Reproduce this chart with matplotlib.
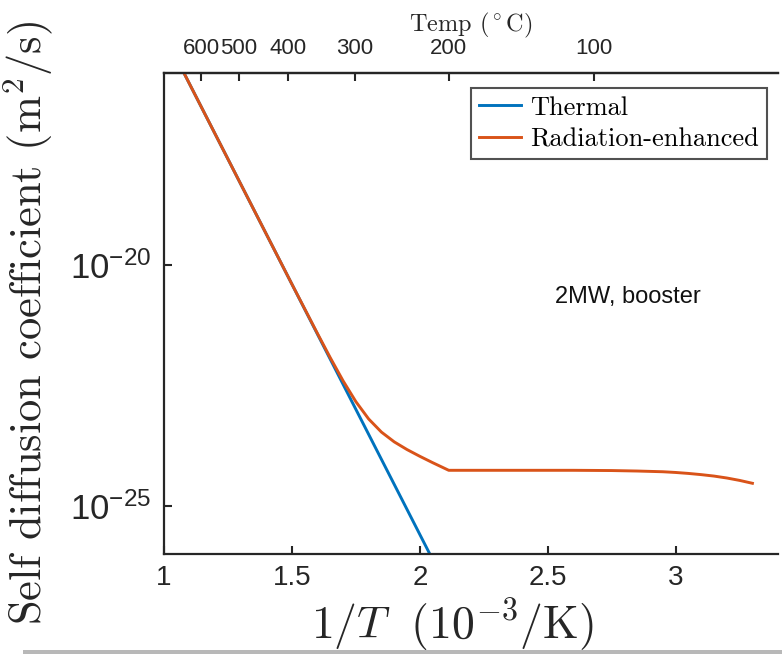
import numpy as np
import matplotlib
matplotlib.use("Agg")
import matplotlib.pyplot as plt
from matplotlib.patches import Rectangle

plt.rcParams['font.family'] = ['Liberation Sans', 'DejaVu Sans']
plt.rcParams['mathtext.fontset'] = 'cm'

# 1/T in 1e-3/K, diffusion coefficient in m^2/s
thermal_x = [1.078, 2.039]
thermal_d = [1e-16, 1e-26]

rad_x = [1.078, 1.30, 1.50, 1.60, 1.65, 1.70, 1.75, 1.80, 1.85, 1.90,
         1.95, 2.00, 2.05, 2.113, 2.30, 2.50, 2.60, 2.75, 2.85, 2.95,
         3.00, 3.05, 3.10, 3.15, 3.20, 3.25, 3.30]
rad_logd = [-16.0, -18.31, -20.39, -21.417, -21.92, -22.40, -22.833, -23.193, -23.466, -23.669,
            -23.829, -23.969, -24.101, -24.26, -24.26, -24.26, -24.26, -24.265, -24.275, -24.29,
            -24.305, -24.325, -24.35, -24.38, -24.42, -24.47, -24.53]
rad_d = [10.0 ** v for v in rad_logd]

temp_ticks_c = [600, 500, 400, 300, 200, 100]
x_ticks = [1, 1.5, 2, 2.5, 3]
y_ticks = [1e-25, 1e-20]
y_tick_labels = [r'$\mathregular{10^{-25}}$', r'$\mathregular{10^{-20}}$']

blue = '#0072BD'
orange = '#D95319'
dark = '#262626'

fig = plt.figure(figsize=(7.82, 6.54), dpi=100)
ax = fig.add_axes([164 / 782, 100 / 654, (778 - 164) / 782, (554 - 73) / 654])

ax.plot(thermal_x, thermal_d, color=blue, lw=2.1, label='Thermal')
ax.plot(rad_x, rad_d, color=orange, lw=2.1, label='Radiation-enhanced')

ax.set_yscale('log')
ax.set_xlim(1, 3.4)
ax.set_ylim(1e-26, 1e-16)
ax.set_xticks(x_ticks)
ax.set_xticklabels(['1', '1.5', '2', '2.5', '3'])
ax.set_yticks(y_ticks)
ax.set_yticklabels(y_tick_labels)
ax.minorticks_off()
ax.tick_params(direction='in', length=6, width=1.5, colors=dark, labelsize=20,
               pad=8, top=False, right=False)
ax.tick_params(axis='y', pad=9, labelsize=25)
for s in ['left', 'bottom', 'top']:
    ax.spines[s].set_linewidth(1.6)
    ax.spines[s].set_color(dark)
ax.spines['right'].set_visible(False)

ax.set_xlabel(r'$1/T\ \ (10^{-3}/\mathrm{K})$', fontsize=33, labelpad=-2, color=dark)
ax.xaxis.set_label_coords(0.47, -0.09)
ax.xaxis.label.set_va('top')
ax.set_ylabel(r'Self diffusion coefficient $(\mathrm{m}^2/\mathrm{s})$',
              family='cmr10', fontsize=32, color=dark)
ax.yaxis.set_label_coords(-0.178, 0.48)

top = ax.secondary_xaxis('top', functions=(lambda x: 1000.0 / np.asarray(x) - 273.15,
                                            lambda t: 1000.0 / (np.asarray(t) + 273.15)))
top.set_xticks(temp_ticks_c)
top.set_xticklabels([str(t) for t in temp_ticks_c])
top.tick_params(direction='in', length=6, width=1.5, colors=dark, labelsize=16, pad=10)
top.spines['top'].set_linewidth(1.6)
top.spines['top'].set_color(dark)
top.set_xlabel(r'Temp $(^\circ\mathrm{C})$', family='cmr10', fontsize=17.5, labelpad=5, color=dark)

leg = ax.legend(loc='upper right', bbox_to_anchor=(0.982, 0.969),
                prop={'family': 'cmr10', 'size': 19}, frameon=True, fancybox=False,
                borderpad=0.3, handlelength=1.6, handletextpad=0.35, labelspacing=0.3,
                borderaxespad=0.0)
leg.get_frame().set_edgecolor(dark)
leg.get_frame().set_linewidth(1.5)

ax.text(2.527, 10 ** -20.66, '2MW, booster', fontsize=17, ha='left', va='center', color='#111111')

fig.patches.append(Rectangle((0.03, 0), 0.97, 4 / 654, transform=fig.transFigure,
                             facecolor='#b8b8b8', edgecolor='none'))

fig.savefig('out.png', dpi=100)
